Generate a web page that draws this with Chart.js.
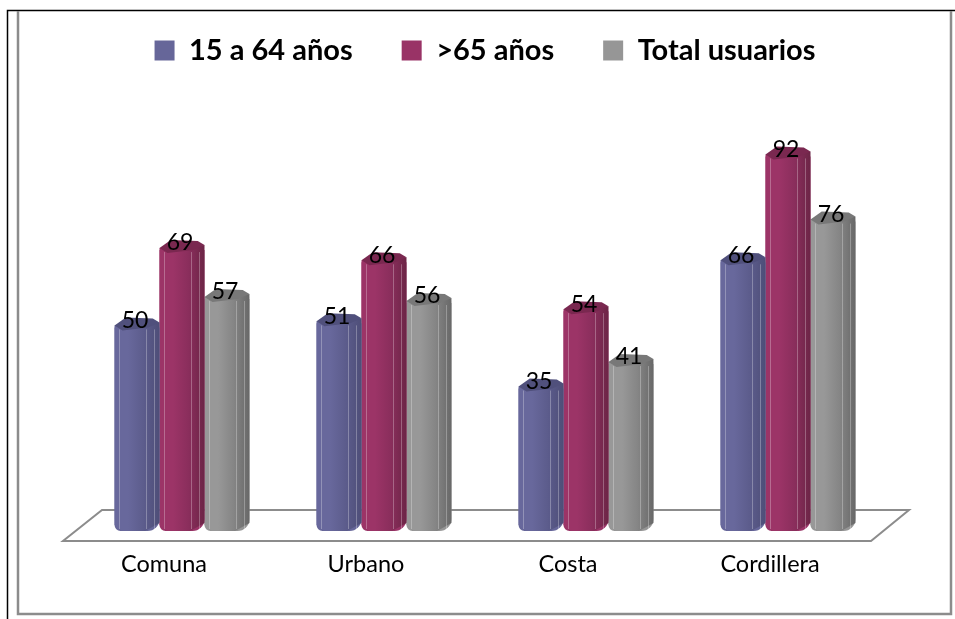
<!DOCTYPE html>
<html lang="es">
<head>
<meta charset="utf-8">
<title>Usuarios por sector</title>
<script src="https://cdn.jsdelivr.net/npm/chart.js@4"></script>
<style>
    html, body { margin: 0; padding: 0; background: #fff; }
    #wrap { width: 955px; height: 619px; }
</style>
</head>
<body>
<div id="wrap"><canvas id="usuariosChart" width="955" height="619"></canvas></div>
<script>
// Data
const categories = ["Comuna", "Urbano", "Costa", "Cordillera"];
const jovenes = [50, 51, 35, 66];
const mayores = [69, 66, 54, 92];
const totalUsuarios = [57, 56, 41, 76];
const seriesNames = ["15 a 64 años", ">65 años", "Total usuarios"];

// Base, left, middle, right and cap shades of each column
const solidColors = ["#666699", "#993366", "#969696"];
const leftColors = ["#68689c", "#9c3467", "#989898"];
const midColors = ["#5c5c8c", "#8a2e5c", "#858585"];
const rightColors = ["#4e4e78", "#6c2546", "#686868"];
const capColors = ["#50507c", "#7a2850", "#787878"];

const FONT = "Lato, 'Open Sans', sans-serif";

// Frame around the chart: black outer lines, grey inner box
const framePlugin = {
    id: "frame",
    beforeDraw(chart) {
        const ctx = chart.ctx;
        ctx.save();
        ctx.fillStyle = "#ffffff";
        ctx.fillRect(0, 0, chart.width, chart.height);
        ctx.strokeStyle = "#000000";
        ctx.lineWidth = 1.5;
        ctx.beginPath();
        ctx.moveTo(7.5, chart.height);
        ctx.lineTo(7.5, 10.5);
        ctx.lineTo(chart.width, 10.5);
        ctx.stroke();
        ctx.strokeStyle = "#8c8c8c";
        ctx.lineWidth = 2.5;
        ctx.beginPath();
        ctx.moveTo(18, 11);
        ctx.lineTo(18, 614);
        ctx.lineTo(951, 614);
        ctx.lineTo(951, 11);
        ctx.stroke();
        ctx.restore();
    }
};

// Floor of the 3D plot, behind the columns
const floorPlugin = {
    id: "floor",
    beforeDatasetsDraw(chart) {
        const { ctx, chartArea: a } = chart;
        ctx.save();
        ctx.strokeStyle = "#8c8c8c";
        ctx.lineWidth = 2;
        ctx.beginPath();
        ctx.moveTo(a.left - 18, a.bottom + 10);
        ctx.lineTo(a.right - 18, a.bottom + 10);
        ctx.lineTo(a.right + 20, a.bottom - 21);
        ctx.lineTo(a.left + 21, a.bottom - 21);
        ctx.closePath();
        ctx.stroke();
        ctx.restore();
    }
};

// Shades each bar the library drew so that it reads as a hexagonal column
const columnPlugin = {
    id: "column",
    afterDatasetDraw(chart, args) {
        const ctx = chart.ctx;
        const i = args.index;
        args.meta.data.forEach(bar => {
            const w = bar.width;
            const x0 = bar.x - w / 2;
            const top = bar.y;
            const base = bar.base;

            const grad = ctx.createLinearGradient(x0, 0, x0 + w, 0);
            grad.addColorStop(0, leftColors[i]);
            grad.addColorStop(0.3, leftColors[i]);
            grad.addColorStop(0.65, midColors[i]);
            grad.addColorStop(1, rightColors[i]);

            ctx.save();
            ctx.fillStyle = grad;
            ctx.beginPath();
            ctx.moveTo(x0, top - 2);
            ctx.lineTo(x0, base - 6);
            ctx.lineTo(x0 + 8, base);
            ctx.lineTo(x0 + w * 0.68, base);
            ctx.lineTo(x0 + w, base - 8);
            ctx.lineTo(x0 + w, top - 5);
            ctx.closePath();
            ctx.fill();

            // Facet edges
            ctx.strokeStyle = "rgba(255,255,255,0.28)";
            ctx.lineWidth = 1;
            [0.09, 0.7, 0.88].forEach(f => {
                const fx = Math.round(x0 + w * f) + 0.5;
                ctx.beginPath();
                ctx.moveTo(fx, top + 2);
                ctx.lineTo(fx, base - 2);
                ctx.stroke();
            });

            // Top cap
            ctx.fillStyle = capColors[i];
            ctx.beginPath();
            ctx.moveTo(x0, top - 2);
            ctx.lineTo(x0 + 8, top + 3);
            ctx.lineTo(x0 + w * 0.75, top);
            ctx.lineTo(x0 + w, top - 5);
            ctx.lineTo(x0 + w * 0.85, top - 9);
            ctx.lineTo(x0 + w * 0.25, top - 10);
            ctx.closePath();
            ctx.fill();
            ctx.restore();
        });
    }
};

// Value labels sitting on the column tops
const valueLabelPlugin = {
    id: "valueLabels",
    afterDatasetsDraw(chart) {
        const ctx = chart.ctx;
        ctx.save();
        ctx.font = "23px " + FONT;
        ctx.fillStyle = "#000000";
        ctx.textAlign = "center";
        ctx.textBaseline = "middle";
        chart.data.datasets.forEach((ds, i) => {
            chart.getDatasetMeta(i).data.forEach((bar, j) => {
                ctx.fillText(ds.data[j], bar.x - 2, bar.y - 7);
            });
        });
        ctx.restore();
    }
};

const seriesValues = [jovenes, mayores, totalUsuarios];

new Chart(document.getElementById("usuariosChart").getContext("2d"), {
    type: "bar",
    data: {
        labels: categories,
        datasets: seriesValues.map((values, i) => ({
            label: seriesNames[i],
            data: values,
            backgroundColor: solidColors[i],
            borderWidth: 0,
            borderSkipped: false,
            borderRadius: { topLeft: 0, topRight: 0, bottomLeft: 6, bottomRight: 12 },
            categoryPercentage: 0.668,
            barPercentage: 1
        }))
    },
    options: {
        responsive: false,
        animation: false,
        layout: { padding: { left: 81, right: 66, top: -13, bottom: 0 } },
        plugins: {
            tooltip: { enabled: false },
            legend: {
                position: "top",
                labels: {
                    boxWidth: 20,
                    boxHeight: 20,
                    padding: 49,
                    color: "#000000",
                    font: { family: FONT, size: 29, weight: "bold" }
                }
            }
        },
        scales: {
            x: {
                grid: { display: false },
                border: { display: false },
                afterFit: scale => { scale.height = 88; },
                ticks: {
                    padding: 11,
                    labelOffset: -18,
                    color: "#000000",
                    maxRotation: 0,
                    font: { family: FONT, size: 23.5 }
                }
            },
            y: {
                display: false,
                min: 0,
                max: 112
            }
        }
    },
    plugins: [framePlugin, floorPlugin, columnPlugin, valueLabelPlugin]
});
</script>
</body>
</html>
